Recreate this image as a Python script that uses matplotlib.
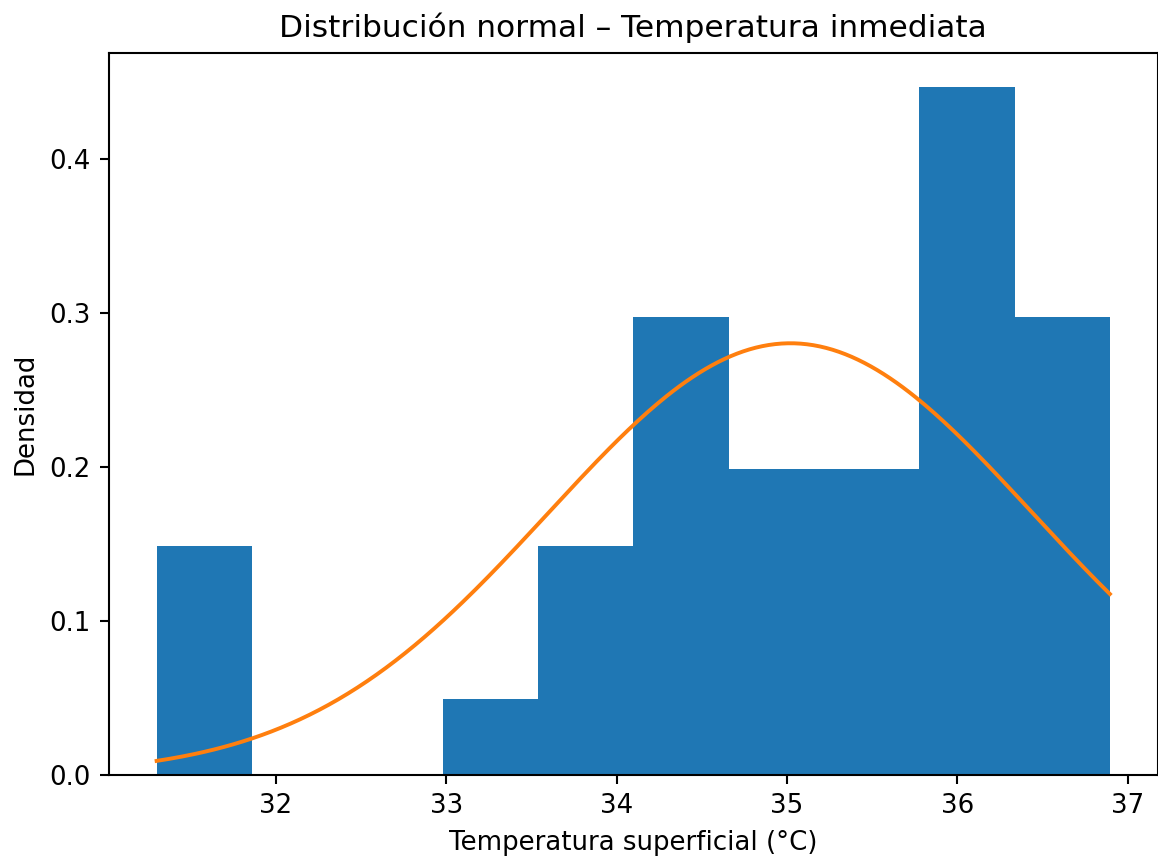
import numpy as np
import matplotlib
matplotlib.use("Agg")
import matplotlib.pyplot as plt

# Histogram of surface temperature readings (10 equal-width bins)
temp_min = 31.30
temp_max = 36.895
bin_counts = [3, 0, 0, 1, 3, 6, 4, 4, 9, 6]

# Fitted normal parameters
mu = 35.02
sigma = 1.422

edges = np.linspace(temp_min, temp_max, len(bin_counts) + 1)

DPI = 187.5
fig = plt.figure(figsize=(1158 / DPI, 859 / DPI), dpi=DPI)
ax = fig.add_axes([0.0941, 0.0978, 0.9055, 0.8405])

ax.hist(edges[:-1], bins=edges, weights=bin_counts, density=True, color="#1f77b4")

x = np.linspace(temp_min, temp_max, 300)
pdf = np.exp(-0.5 * ((x - mu) / sigma) ** 2) / (sigma * np.sqrt(2 * np.pi))
ax.plot(x, pdf, color="#ff7f0e", linewidth=1.5)

ax.set_title("Distribución normal – Temperatura inmediata")
ax.set_xlabel("Temperatura superficial (°C)")
ax.set_ylabel("Densidad")

fig.savefig("out.png", dpi=DPI)
